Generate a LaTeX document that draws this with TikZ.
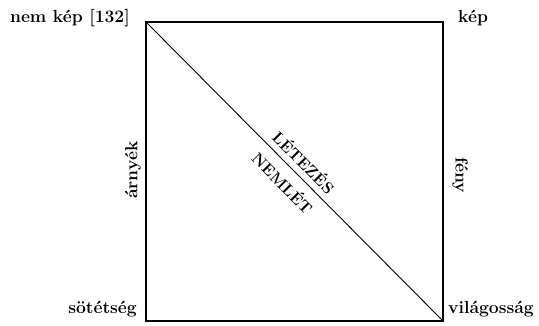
\documentclass[tikz,border=0pt]{standalone}
\usepackage{fontspec}
\setmainfont{Latin Modern Roman}
\begin{document}
\begin{tikzpicture}[x=1pt,y=1pt,
  lbl/.style={font=\fontsize{17.5}{20}\selectfont\bfseries, inner sep=0pt},
  diag/.style={font=\fontsize{16}{18}\selectfont\bfseries, inner sep=0pt},
  edge/.style={line width=1.2pt}]
\useasboundingbox (0,0) rectangle (539,325);
\coordinate (tl) at (146,303);
\coordinate (tr) at (443,303);
\coordinate (bl) at (146,4);
\coordinate (br) at (443,4);
\draw[edge] (tl) -- (tr) -- (br) -- (bl) -- cycle;
\draw[line width=0.9pt] (tl) -- (br)
  node[diag, midway, sloped, above=6pt] (l) {LÉTEZÉS}
  node[diag, midway, sloped, below=8pt] (n) {NEMLÉT};
\node[lbl, anchor=base east] (nk) at (130,302) {nem kép [132]};
\node[lbl, anchor=base west] (k) at (458,302) {kép};
\node[lbl, anchor=base east] (s) at (137,12) {sötétség};
\node[lbl, anchor=base west] (v) at (448,12) {világosság};
\node[lbl, rotate=90, anchor=south] (a) at (141,155) {árnyék};
\node[lbl, rotate=-90, anchor=south] (f) at (452,150) {fény};
\end{tikzpicture}
\end{document}
